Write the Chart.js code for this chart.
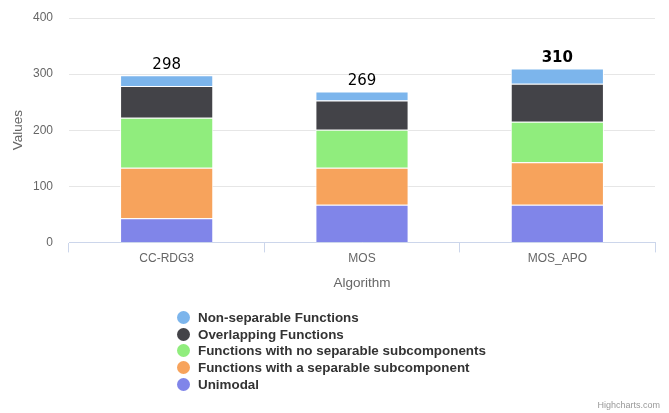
<!DOCTYPE html>
<html>
<head>
<meta charset="utf-8">
<script src="https://cdn.jsdelivr.net/npm/chart.js@4/dist/chart.umd.min.js"></script>
<style>
    body { margin: 0; background: #fff; }
    #wrap { position: relative; width: 669px; height: 413px; }
    #legend { position: absolute; left: 177px; top: 310px; font: bold 13.4px "Liberation Sans", Arial, sans-serif; color: #333; }
    .item { height: 16.7px; line-height: 16.7px; white-space: nowrap; }
    .dot { display: inline-block; width: 13px; height: 13px; border-radius: 50%; vertical-align: -2px; margin-right: 8px; }
    #credit { position: absolute; right: 9px; top: 400px; font: 9px "Liberation Sans", Arial, sans-serif; color: #999; }
</style>
</head>
<body>
<div id="wrap">
    <canvas id="stackChart" width="669" height="413"></canvas>
    <div id="legend"></div>
    <div id="credit">Highcharts.com</div>
</div>
<script>
const algorithms = ['CC-RDG3', 'MOS', 'MOS_APO'];
const unimodal = [43, 67, 67];
const separableSub = [90, 66, 76];
const noSeparableSub = [89, 68, 72];
const overlapping = [57, 52, 68];
const nonSeparable = [19, 16, 27];
const totals = [298, 269, 310];
const boldTotals = [false, false, true];
const yTicks = [0, 100, 200, 300, 400];

const seriesNames = ['Unimodal', 'Functions with a separable subcomponent', 'Functions with no separable subcomponents', 'Overlapping Functions', 'Non-separable Functions'];
const seriesData = [unimodal, separableSub, noSeparableSub, overlapping, nonSeparable];
const seriesColors = ['#8085e9', '#f7a35c', '#90ed7d', '#434348', '#7cb5ec'];

const font = '"Liberation Sans", Arial, sans-serif';

// totals above each stack
const totalLabels = {
    id: 'totalLabels',
    afterDatasetsDraw(chart) {
        const ctx = chart.ctx;
        const x = chart.scales.x, y = chart.scales.y;
        ctx.save();
        ctx.fillStyle = '#000';
        ctx.textAlign = 'center';
        ctx.textBaseline = 'middle';
        totals.forEach((t, i) => {
            ctx.font = (boldTotals[i] ? 'bold ' : '') + '15px "DejaVu Sans", sans-serif';
            ctx.fillText(String(t), x.getPixelForValue(i), y.getPixelForValue(t) - 10);
        });
        ctx.restore();
    }
};

const ctx = document.getElementById('stackChart').getContext('2d');
const chart = new Chart(ctx, {
    type: 'bar',
    data: {
        labels: algorithms,
        datasets: seriesNames.map((name, i) => ({
            label: name,
            data: seriesData[i],
            backgroundColor: seriesColors[i],
            borderColor: '#ffffff',
            borderWidth: 1,
            categoryPercentage: 1,
            barPercentage: 0.477
        }))
    },
    options: {
        responsive: false,
        animation: false,
        layout: { padding: { top: 18, right: 14, bottom: 118, left: 10 } },
        plugins: { legend: { display: false }, tooltip: { enabled: false } },
        scales: {
            x: {
                stacked: true,
                grid: { offset: true, drawOnChartArea: false, drawTicks: true, tickLength: 10, color: '#ccd6eb' },
                border: { color: '#ccd6eb' },
                ticks: { color: '#666', font: { family: font, size: 12 }, padding: -1 },
                title: { display: true, text: 'Algorithm', color: '#666', font: { family: font, size: 13.5 }, padding: { top: 10 } }
            },
            y: {
                stacked: true,
                min: 0,
                max: 400,
                afterBuildTicks: s => { s.ticks = yTicks.map(v => ({ value: v })); },
                afterFit: s => { s.width = 59; },
                grid: { color: '#e6e6e6', drawTicks: true, tickLength: 11, tickColor: 'rgba(0,0,0,0)' },
                border: { display: false },
                ticks: { color: '#666', font: { family: font, size: 12 }, padding: 5 },
                title: { display: true, text: 'Values', color: '#666', font: { family: font, size: 13.5 }, padding: 0 }
            }
        }
    },
    plugins: [totalLabels]
});

document.getElementById('legend').innerHTML = chart.data.datasets.slice().reverse().map(d =>
    `<div class="item"><span class="dot" style="background:${d.backgroundColor}"></span>${d.label}</div>`
).join('');
</script>
</body>
</html>
